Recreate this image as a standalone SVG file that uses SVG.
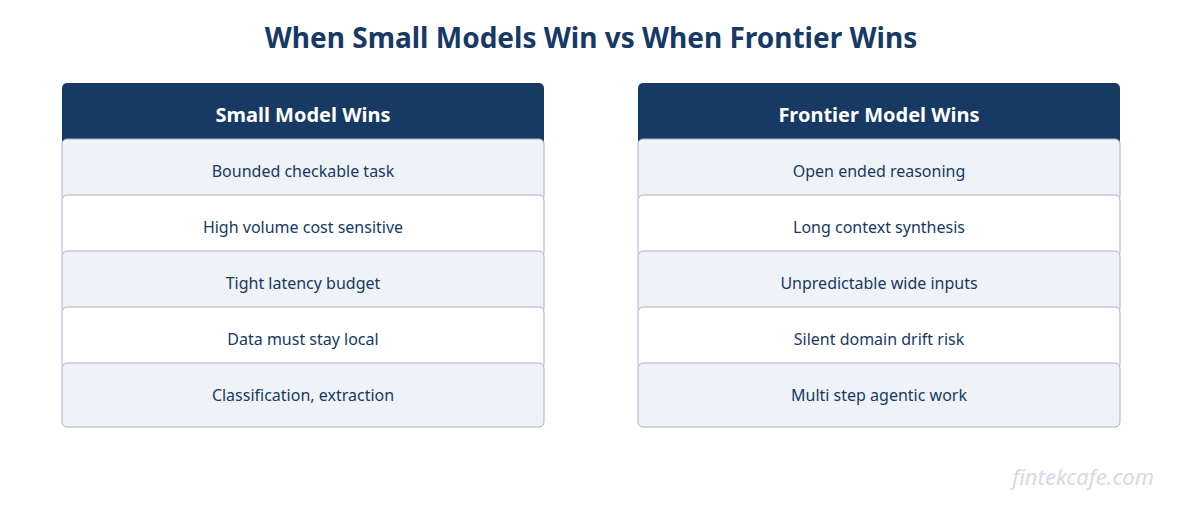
<svg xmlns="http://www.w3.org/2000/svg" width="1182" height="510" viewBox="0 0 1182 510">
<style>
.t{font-family:"Noto Sans","Open Sans",sans-serif;text-anchor:middle}
.title{font-size:28px;font-weight:bold;fill:#163a63}
.hd{fill:#163a63}
.ht{font-size:20px;font-weight:bold;fill:#fff}
.r{stroke:#a5b3c6;stroke-width:1}
.a{fill:#eff3f8}.b{fill:#fff}
.rt{font-size:16px;fill:#163a63}
.wm{font-family:"Noto Sans","Open Sans",sans-serif;font-size:22px;font-style:italic;fill:#d3dbe5;text-anchor:end}
</style>
<rect width="1182" height="510" fill="#fff"/>
<text class="t title" x="591" y="48">When Small Models Win vs When Frontier Wins</text>
<g id="left">
<rect class="hd" x="62" y="83" width="482" height="62" rx="5"/>
<text class="t ht" x="303" y="122">Small Model Wins</text>
<g id="l1"><rect class="r a" x="62" y="139" width="482" height="62" rx="5"/><text class="t rt" x="303" y="177">Bounded checkable task</text></g>
<g id="l2"><rect class="r b" x="62" y="195" width="482" height="62" rx="5"/><text class="t rt" x="303" y="233">High volume cost sensitive</text></g>
<g id="l3"><rect class="r a" x="62" y="251" width="482" height="62" rx="5"/><text class="t rt" x="303" y="289">Tight latency budget</text></g>
<g id="l4"><rect class="r b" x="62" y="307" width="482" height="62" rx="5"/><text class="t rt" x="303" y="345">Data must stay local</text></g>
<g id="l5"><rect class="r a" x="62" y="363" width="482" height="64" rx="5"/><text class="t rt" x="303" y="401">Classification, extraction</text></g>
</g>
<g id="right">
<rect class="hd" x="638" y="83" width="482" height="62" rx="5"/>
<text class="t ht" x="879" y="122">Frontier Model Wins</text>
<g id="r1"><rect class="r a" x="638" y="139" width="482" height="62" rx="5"/><text class="t rt" x="879" y="177">Open ended reasoning</text></g>
<g id="r2"><rect class="r b" x="638" y="195" width="482" height="62" rx="5"/><text class="t rt" x="879" y="233">Long context synthesis</text></g>
<g id="r3"><rect class="r a" x="638" y="251" width="482" height="62" rx="5"/><text class="t rt" x="879" y="289">Unpredictable wide inputs</text></g>
<g id="r4"><rect class="r b" x="638" y="307" width="482" height="62" rx="5"/><text class="t rt" x="879" y="345">Silent domain drift risk</text></g>
<g id="r5"><rect class="r a" x="638" y="363" width="482" height="64" rx="5"/><text class="t rt" x="879" y="401">Multi step agentic work</text></g>
</g>
<g id="connectors"/>
<text class="wm" x="1154" y="485">fintekcafe.com</text>
</svg>
